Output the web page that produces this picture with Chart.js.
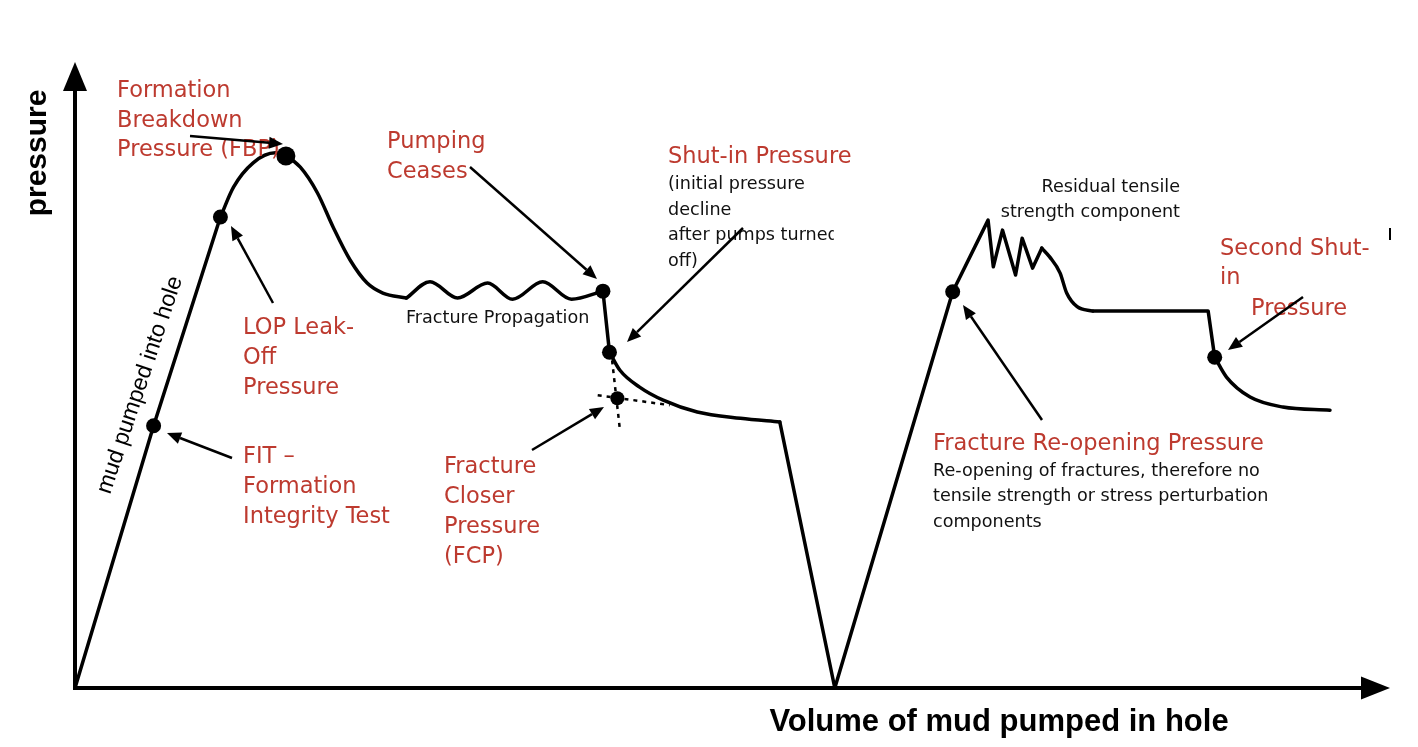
<!DOCTYPE html>
<html lang="en">
<head>
<meta charset="UTF-8">
<title>Leak-off test</title>
<script src="https://cdn.jsdelivr.net/npm/chart.js"></script>
<style>
    body { margin: 0; background: #fff; }
    #wrap { width: 1418px; height: 747px; position: relative; }
</style>
</head>
<body>
<div id="wrap"><canvas id="chartCanvas"></canvas></div>
<script>
// volume (x) and pressure (y), both on a 0-100 arbitrary scale
const pumpRamp = [[0, 0], [6.0, 42.1], [11.1, 75.6]];
const breakdown = [[11.1, 75.6], [12.1, 80.4], [13.6, 84.3], [15.3, 85.9], [16.1, 85.4], [17.2, 83.6],
    [18.5, 79.5], [19.7, 74.0], [21.0, 68.7], [22.3, 65.0], [23.5, 63.4], [25.3, 62.6]];
const propagation = [[25.3, 62.6], [27.1, 65.2], [29.2, 62.6], [31.5, 65.0], [33.4, 62.4], [35.7, 65.2],
    [37.9, 62.4], [40.3, 63.7]];
const shutInDrop = [[40.3, 63.7], [40.8, 53.9]];
const decline = [[40.8, 53.9], [41.6, 51.0], [43.1, 48.3], [44.9, 46.2], [47.5, 44.3], [50.8, 43.3], [53.8, 42.7]];
const bleedAndReopen = [[53.8, 42.7], [58.0, 0], [67.0, 63.6], [69.7, 75.1], [70.1, 67.6], [70.8, 73.5],
    [71.8, 66.3], [72.3, 72.2], [73.1, 67.4], [73.8, 70.6]];
const settle = [[73.8, 70.6], [74.4, 69.2], [75.2, 66.6], [75.7, 63.4], [76.5, 61.2], [77.7, 60.5]];
const plateau = [[77.7, 60.5], [86.5, 60.5], [87.0, 53.1]];
const secondDecline = [[87.0, 53.1], [87.9, 49.9], [89.7, 46.7], [92.2, 45.1], [95.8, 44.6]];

// marked points: FIT, LOP, FBP, pumping ceases, shut-in, FCP, re-opening, second shut-in
const keyPoints = [[6.0, 42.1], [11.1, 75.6], [16.1, 85.4], [40.3, 63.7], [40.8, 53.9], [41.4, 46.5], [67.0, 63.6], [87.0, 53.1]];
const keyRadius = [7.5, 7.5, 9.5, 7.5, 7.5, 7, 7.5, 7.5];

// tangent construction for closure pressure
const fcpVertical = [[41.0, 52.6], [41.6, 41.4]];
const fcpHorizontal = [[39.9, 47.0], [45.4, 45.4]];

const RED = '#bd3a2f';
const redFont = '22.5px "DejaVu Sans"';
const blackFont = '17.6px "DejaVu Sans"';

const notes = [
    { x: 117, y: 97, lh: 29.5, red: true, lines: ['Formation', 'Breakdown', 'Pressure (FBP)'] },
    { x: 387, y: 148, lh: 30, red: true, lines: ['Pumping', 'Ceases'] },
    { x: 668, y: 163, lh: 30, red: true, lines: ['Shut-in Pressure'] },
    { x: 668, y: 189, lh: 25.7, lines: ['(initial pressure', 'decline', 'after pumps turned', 'off)'], clipRight: 834 },
    { x: 406, y: 323, lh: 25, lines: ['Fracture Propagation'] },
    { x: 243, y: 334, lh: 30, red: true, lines: ['LOP Leak-', 'Off', 'Pressure'] },
    { x: 243, y: 463, lh: 30, red: true, lines: ['FIT \u2013', 'Formation', 'Integrity Test'] },
    { x: 444, y: 473, lh: 30, red: true, lines: ['Fracture', 'Closer', 'Pressure', '(FCP)'] },
    { x: 1180, y: 192, lh: 25, align: 'right', lines: ['Residual tensile', 'strength component'] },
    { x: 1220, y: 255, lh: 28.5, red: true, lines: ['Second Shut-', 'in'] },
    { x: 1251, y: 315, lh: 30, red: true, lines: ['Pressure'] },
    { x: 933, y: 450, lh: 30, red: true, lines: ['Fracture Re-opening Pressure'] },
    { x: 933, y: 476, lh: 25.4, lines: ['Re-opening of fractures, therefore no', 'tensile strength or stress perturbation', 'components'] }
];

// arrows: [fromX, fromY, toX, toY] in canvas pixels
const arrows = [
    [190, 136, 283, 144],
    [273, 303, 231, 226],
    [232, 458, 167, 433],
    [470, 167, 597, 279],
    [743, 228, 627, 342],
    [532, 450, 604, 407],
    [1042, 420, 963, 305],
    [1303, 297, 1228, 350]
];

function toXY(pts) {
    return pts.map(p => ({ x: p[0], y: p[1] }));
}

function curve(pts, smooth) {
    return {
        data: toXY(pts),
        showLine: true,
        borderColor: '#000',
        borderWidth: 3.5,
        pointRadius: 0,
        tension: 0,
        cubicInterpolationMode: smooth ? 'monotone' : 'default',
        borderJoinStyle: 'round',
        borderCapStyle: 'round',
        clip: false
    };
}

function dotted(pts) {
    return {
        data: toXY(pts),
        showLine: true,
        borderColor: '#000',
        borderWidth: 2.5,
        borderDash: [4, 5],
        pointRadius: 0,
        clip: false
    };
}

function drawArrow(ctx, x1, y1, x2, y2) {
    const ang = Math.atan2(y2 - y1, x2 - x1);
    const hl = 14, hw = 6;
    const bx = x2 - hl * Math.cos(ang), by = y2 - hl * Math.sin(ang);
    ctx.beginPath();
    ctx.moveTo(x1, y1);
    ctx.lineTo(bx, by);
    ctx.stroke();
    ctx.beginPath();
    ctx.moveTo(x2, y2);
    ctx.lineTo(bx + hw * Math.sin(ang), by - hw * Math.cos(ang));
    ctx.lineTo(bx - hw * Math.sin(ang), by + hw * Math.cos(ang));
    ctx.closePath();
    ctx.fill();
}

const diagram = {
    id: 'diagram',
    afterDatasetsDraw(chart) {
        const ctx = chart.ctx;
        const a = chart.chartArea;
        ctx.save();
        ctx.fillStyle = '#000';
        ctx.strokeStyle = '#000';

        // axes with arrow heads
        ctx.lineWidth = 4;
        ctx.beginPath();
        ctx.moveTo(a.left, a.bottom + 2);
        ctx.lineTo(a.left, a.top + 25);
        ctx.moveTo(a.left - 2, a.bottom);
        ctx.lineTo(a.right - 22, a.bottom);
        ctx.stroke();
        ctx.beginPath();
        ctx.moveTo(a.left, a.top - 3);
        ctx.lineTo(a.left - 12, a.top + 26);
        ctx.lineTo(a.left + 12, a.top + 26);
        ctx.closePath();
        ctx.fill();
        ctx.beginPath();
        ctx.moveTo(a.right + 5, a.bottom);
        ctx.lineTo(a.right - 24, a.bottom - 11.5);
        ctx.lineTo(a.right - 24, a.bottom + 11.5);
        ctx.closePath();
        ctx.fill();

        // stray tick at the right edge
        ctx.lineWidth = 2;
        ctx.beginPath();
        ctx.moveTo(1390, 228);
        ctx.lineTo(1390, 240);
        ctx.stroke();

        // axis titles
        ctx.font = 'bold 31px "Liberation Sans", Arial, sans-serif';
        ctx.textAlign = 'center';
        ctx.textBaseline = 'alphabetic';
        ctx.fillText('Volume of mud pumped in hole', 999, 731);
        ctx.save();
        ctx.font = 'bold 30px "Liberation Sans", Arial, sans-serif';
        ctx.translate(46, 153);
        ctx.rotate(-Math.PI / 2);
        ctx.fillText('pressure', 0, 0);
        ctx.restore();

        ctx.save();
        ctx.font = '23px "Liberation Sans", Arial, sans-serif';
        ctx.textAlign = 'left';
        ctx.translate(110, 495);
        ctx.rotate(-71.5 * Math.PI / 180);
        ctx.fillText('mud pumped into hole', 0, 0);
        ctx.restore();

        // annotations
        notes.forEach(n => {
            ctx.save();
            if (n.clipRight) {
                ctx.beginPath();
                ctx.rect(0, 0, n.clipRight, 747);
                ctx.clip();
            }
            ctx.font = n.red ? redFont : blackFont;
            ctx.fillStyle = n.red ? RED : '#111';
            ctx.textAlign = n.align || 'left';
            n.lines.forEach((t, i) => ctx.fillText(t, n.x, n.y + i * n.lh));
            ctx.restore();
        });

        ctx.lineWidth = 2.5;
        arrows.forEach(r => drawArrow(ctx, r[0], r[1], r[2], r[3]));
        ctx.restore();
    }
};

new Chart(document.getElementById('chartCanvas'), {
    type: 'scatter',
    data: {
        datasets: [
            curve(pumpRamp, false),
            curve(breakdown, true),
            curve(propagation, true),
            curve(shutInDrop, false),
            curve(decline, true),
            curve(bleedAndReopen, false),
            curve(settle, true),
            curve(plateau, false),
            curve(secondDecline, true),
            dotted(fcpVertical),
            dotted(fcpHorizontal),
            {
                data: toXY(keyPoints),
                showLine: false,
                pointRadius: keyRadius,
                pointBackgroundColor: '#000',
                pointBorderWidth: 0,
                clip: false
            }
        ]
    },
    options: {
        responsive: true,
        maintainAspectRatio: false,
        devicePixelRatio: 1,
        animation: false,
        events: [],
        layout: { padding: { left: 75, right: 33, top: 65, bottom: 59 } },
        scales: {
            x: { type: 'linear', min: 0, max: 100, display: false },
            y: { type: 'linear', min: 0, max: 100, display: false }
        },
        plugins: {
            legend: { display: false },
            tooltip: { enabled: false }
        }
    },
    plugins: [diagram]
});
</script>
</body>
</html>
